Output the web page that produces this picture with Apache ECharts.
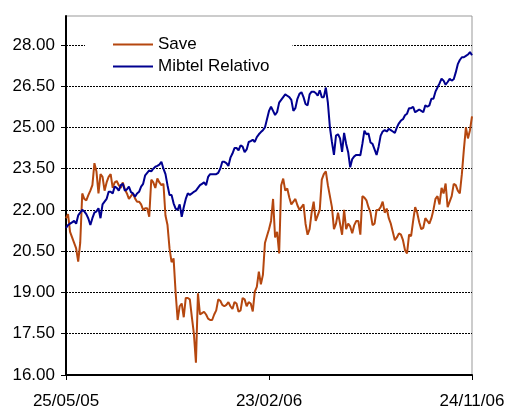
<!DOCTYPE html>
<html>
<head>
<meta charset="utf-8">
<script src="https://cdn.jsdelivr.net/npm/echarts@6.0.0/dist/echarts.min.js"></script>
<style>
html,body{margin:0;padding:0;background:#fff;}
#chart{width:508px;height:410px;}
</style>
</head>
<body>
<div id="chart"></div>
<script>
// tick labels
var dateLabels = ['25/05/05', '23/02/06', '24/11/06'];
var yTicks = [16, 17.5, 19, 20.5, 22, 23.5, 25, 26.5, 28];

// series values (evenly spaced sessions)
var saveData = [
  21.7, 21.85, 21.2, 21.0, 20.8, 20.6, 20.12, 20.8, 22.6, 22.4,
  22.35, 22.54, 22.7, 22.9, 23.7, 23.4, 22.6, 23.3, 23.2, 22.7,
  23.0, 23.2, 23.3, 22.8, 23.0, 23.05, 22.9, 22.8, 23.0, 22.75,
  22.6, 22.4, 22.5, 22.6, 22.42, 22.3, 22.3, 22.2, 22.0, 22.06,
  22.06, 21.75, 23.1, 23.0, 22.8, 23.14, 23.0, 22.9, 22.95, 21.8,
  21.45, 20.6, 20.1, 20.24, 19.0, 18.0, 18.5, 18.6, 18.1, 18.8,
  18.8, 18.75, 18.1, 17.5, 16.45, 18.97, 18.2, 18.25, 18.3, 18.2,
  18.05, 18.0, 18.0, 18.2, 18.35, 18.75, 18.7, 18.55, 18.5, 18.55,
  18.65, 18.5, 18.4, 18.65, 18.6, 18.3, 18.35, 18.8, 18.75, 18.5,
  18.65, 18.6, 18.31, 19.03, 19.2, 19.76, 19.3, 19.64, 20.8, 21.05,
  21.3, 21.6, 22.4, 21.0, 21.2, 20.42, 22.9, 23.14, 22.7, 22.78,
  22.45, 22.2, 22.3, 22.4, 22.17, 22.0, 22.1, 22.2, 21.5, 21.1,
  21.3, 21.9, 22.3, 21.6, 21.8, 22.0, 23.1, 23.3, 23.4, 22.9,
  22.5, 22.1, 21.3, 21.5, 21.9, 21.5, 21.1, 22.0, 21.3, 21.5,
  21.4, 21.15, 21.45, 21.6, 21.6, 21.1, 22.5, 22.45, 22.35, 22.1,
  21.9, 21.45, 21.5, 22.0, 22.0, 22.1, 22.3, 21.9, 22.05, 21.7,
  21.5, 21.2, 20.9, 21.0, 21.15, 21.1, 20.9, 20.54, 20.42, 21.1,
  21.05, 21.6, 22.1, 21.9, 21.55, 21.3, 21.35, 21.7, 21.6, 21.5,
  21.7, 22.0, 22.4, 22.5, 22.2, 22.8, 22.6, 22.96, 22.1, 22.3,
  22.5, 22.95, 22.9, 22.7, 22.6, 23.3, 24.2, 25.0, 24.6, 24.9,
  25.4
];
var mibtelData = [
  21.35, 21.45, 21.5, 21.55, 21.6, 21.5, 21.8, 21.9, 22.0, 21.95,
  21.85, 21.69, 21.45, 21.7, 21.9, 21.95, 22.06, 21.7, 22.2, 22.3,
  22.4, 22.66, 22.66, 22.6, 22.85, 22.8, 22.7, 22.9, 22.95, 22.7,
  22.75, 22.85, 22.65, 22.6, 22.48, 22.6, 22.66, 22.85, 22.95, 23.26,
  23.35, 23.44, 23.4, 23.5, 23.57, 23.6, 23.65, 23.75, 23.5, 23.3,
  22.9, 22.54, 22.54, 22.24, 22.05, 22.0, 22.2, 21.75, 22.1, 22.4,
  22.6, 22.55, 22.6, 22.66, 22.7, 22.8, 22.9, 22.95, 23.0, 22.9,
  23.2, 23.3, 23.3, 23.3, 23.3, 23.35, 23.5, 23.75, 23.75, 23.7,
  23.6, 23.9, 24.05, 24.25, 24.25, 24.17, 24.35, 24.3, 24.1, 24.2,
  24.47, 24.5, 24.55, 24.47, 24.65, 24.75, 24.83, 24.9, 25.0, 25.3,
  25.6, 25.75, 25.6, 25.45, 25.56, 25.9, 26.0, 26.1, 26.2, 26.15,
  26.1, 26.0, 25.6, 25.7, 26.04, 26.22, 26.28, 26.1, 25.85, 25.8,
  26.2, 26.3, 26.3, 26.25, 26.15, 26.35, 26.1, 26.1, 26.45, 25.9,
  25.0, 24.47, 24.0, 24.7, 24.75, 24.6, 24.11, 24.8, 24.4, 24.1,
  23.55, 23.85, 23.95, 24.0, 24.0, 23.99, 24.4, 24.88, 24.75, 24.78,
  24.45, 24.4, 24.2, 24.0, 24.3, 24.7, 24.85, 24.9, 24.85, 24.95,
  24.9, 24.85, 24.8, 25.0, 25.15, 25.25, 25.3, 25.44, 25.5, 25.7,
  25.7, 25.75, 25.55, 25.6, 25.65, 25.6, 25.55, 25.8, 25.75, 25.8,
  26.04, 26.04, 26.3, 26.45, 26.6, 26.77, 26.7, 26.55, 26.65, 26.77,
  26.7, 26.75, 27.0, 27.3, 27.45, 27.55, 27.55, 27.6, 27.65, 27.74,
  27.62
];

var categories = saveData.map(function (v, i) { return i; });
var lastIdx = categories.length - 1;
var midIdx = lastIdx / 2;
// only first, middle and last session get a tick + date
function isDateTick(index) {
  return index === 0 || index === midIdx || index === lastIdx;
}
function dateFor(index) {
  if (index === 0) return dateLabels[0];
  if (index === midIdx) return dateLabels[1];
  if (index === lastIdx) return dateLabels[2];
  return '';
}

var font = 'Liberation Sans, Arial, sans-serif';

var option = {
  animation: false,
  backgroundColor: '#fff',
  grid: {
    left: 66, right: 36, top: 16, bottom: 32,
    show: true, borderColor: '#999', borderWidth: 1, backgroundColor: 'transparent'
  },
  legend: {
    orient: 'vertical',
    left: 85, top: 30,
    padding: [6, 23, 6, 28],
    itemGap: 5,
    icon: 'rect',
    itemWidth: 40, itemHeight: 2,
    backgroundColor: '#fff',
    textStyle: { color: '#000', fontSize: 17, fontFamily: font },
    data: ['Save', 'Mibtel Relativo']
  },
  xAxis: {
    type: 'category',
    data: categories,
    boundaryGap: false,
    axisLine: { lineStyle: { color: '#000', width: 2 } },
    axisTick: { interval: function (i) { return isDateTick(i); }, length: 5, lineStyle: { color: '#000', width: 1 } },
    axisLabel: {
      interval: function (i) { return isDateTick(i); },
      formatter: function (v, i) { return dateFor(i); },
      color: '#000', fontSize: 17, fontFamily: font, margin: 18,
      hideOverlap: false
    },
    splitLine: { show: false }
  },
  yAxis: {
    type: 'value',
    min: 16, max: 29.05, interval: 1.5,
    axisLine: { show: true, lineStyle: { color: '#000', width: 2 } },
    axisTick: { show: true, length: 5, customValues: yTicks, lineStyle: { color: '#000' } },
    axisLabel: {
      customValues: yTicks,
      formatter: function (v) { return yTicks.indexOf(v) >= 0 ? v.toFixed(2) : ''; },
      color: '#000', fontSize: 17, fontFamily: font, margin: 11
    },
    splitLine: { show: true, lineStyle: { color: '#000', width: 1, type: [2, 1] } }
  },
  series: [
    {
      name: 'Save', type: 'line', data: saveData,
      symbol: 'none', color: '#B5470F',
      lineStyle: { width: 2, color: '#B5470F' }
    },
    {
      name: 'Mibtel Relativo', type: 'line', data: mibtelData,
      symbol: 'none', color: '#000090',
      lineStyle: { width: 2, color: '#000090' }
    }
  ]
};

var chart = echarts.init(document.getElementById('chart'));
chart.setOption(option);
</script>
</body>
</html>
